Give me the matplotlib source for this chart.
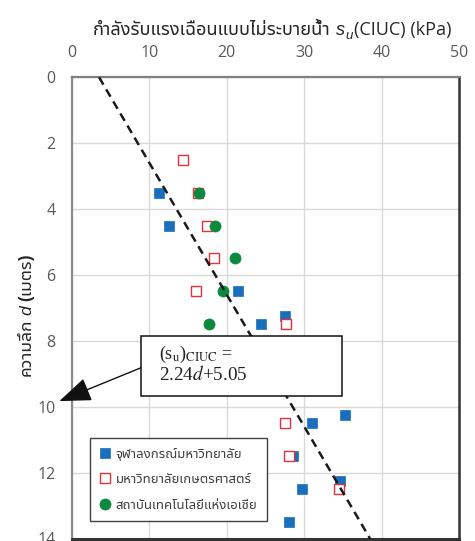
import matplotlib
matplotlib.use("Agg")
import matplotlib.pyplot as plt
import matplotlib.font_manager as fm
from matplotlib.ft2font import FT2Font
from matplotlib.patches import Rectangle
from matplotlib.lines import Line2D
from matplotlib.transforms import IdentityTransform

# ---------------- data ----------------
chula_s = [11.3, 12.5, 21.4, 24.4, 27.5, 31.0, 35.3, 28.6, 29.7, 34.6, 28.0]
chula_d = [3.5, 4.5, 6.5, 7.5, 7.25, 10.5, 10.25, 11.5, 12.5, 12.25, 13.5]

ku_s = [14.3, 16.3, 17.5, 18.3, 16.0, 27.6, 27.5, 28.0, 34.5]
ku_d = [2.5, 3.5, 4.5, 5.5, 6.5, 7.5, 10.5, 11.5, 12.5]

ait_s = [16.4, 18.5, 21.0, 19.5, 17.7]
ait_d = [3.5, 4.5, 5.5, 6.5, 7.5]

fit_s = [3.5, 38.5]
fit_d = [0, 14]

labels = ["จุฬาลงกรณ์มหาวิทยาลัย", "มหาวิทยาลัยเกษตรศาสตร์", "สถาบันเทคโนโลยีแห่งเอเชีย"]
x_ticks = [0, 10, 20, 30, 40, 50]
y_ticks = [0, 2, 4, 6, 8, 10, 12, 14]

title_thai = "กำลังรับแรงเฉือนแบบไม่ระบายน้ำ"
title_tail = "(CIUC) (kPa)"
ylab_thai1 = "ความลึก"
ylab_thai2 = "(เมตร)"

# ---------------- fonts ----------------
def find_thai():
    names = []
    for f in fm.fontManager.ttflist:
        try:
            cm = FT2Font(f.fname).get_charmap()
        except Exception:
            continue
        if 0x0E01 in cm and 0x0E33 in cm and 0x0E49 in cm:
            names.append(f.name)
    if not names:
        return None
    for key in ["Noto Sans Thai", "Leelawadee", "Tahoma", "Loma", "Garuda", "Sans"]:
        for n in names:
            if key in n and "Looped" not in n and "Mono" not in n:
                return n
    return names[0]

thai = find_thai()
fam = ["Open Sans"] + ([thai] if thai else []) + ["DejaVu Sans"]
plt.rcParams["font.family"] = fam

# ---------------- figure ----------------
W, H = 475, 541
fig = plt.figure(figsize=(W / 100, H / 100), dpi=100)
ax = fig.add_axes([72 / W, 1 - 538.5 / H, (459 - 72) / W, (538.5 - 77.3) / H])

ax.set_xlim(0, 50)
ax.set_ylim(14, 0)
ax.set_xticks(x_ticks)
ax.set_yticks(y_ticks)
ax.xaxis.tick_top()
ax.tick_params(axis="both", length=0, labelsize=11.5, labelcolor="#595959", pad=12)
ax.grid(True, color="#d9d9d9", lw=1.0)
ax.set_axisbelow(True)

ax.spines["left"].set_color("#8c8c8c")
ax.spines["left"].set_linewidth(1.6)
ax.spines["top"].set_color("#7f7f7f")
ax.spines["top"].set_linewidth(1.6)
ax.spines["right"].set_color("#333333")
ax.spines["right"].set_linewidth(1.8)
ax.spines["bottom"].set_color("#333333")
ax.spines["bottom"].set_linewidth(2.2)

blue = "#1a6fbd"
red = "#e8303a"
green = "#0b8a3f"

ax.plot(chula_s, chula_d, ls="none", marker="s", ms=7.3, mfc=blue, mec=blue, mew=0.5, zorder=3)
ax.plot(ku_s, ku_d, ls="none", marker="s", ms=7.0, mfc="white", mec=red, mew=1.0, zorder=4)
ax.plot(ait_s, ait_d, ls="none", marker="o", ms=8.0, mfc=green, mec=green, mew=0.5, zorder=5)

ax.plot(fit_s, fit_d, color="#1a1a1a", lw=1.8, dashes=(3.4, 2.2), zorder=6, clip_on=True)

# annotation box
bx0, bx1 = 8.88, 34.84
by0, by1 = 7.84, 9.68
rect = Rectangle((bx0, by0), bx1 - bx0, by1 - by0, facecolor="white", edgecolor="#111111",
                 lw=1.1, zorder=8)
ax.add_patch(rect)
ax.text(11.3, 8.55, r"(s$_\mathrm{u}$)$_\mathrm{CIUC}$ =", family="Liberation Serif",
        math_fontfamily="stix", fontsize=13, color="#222222", va="baseline", ha="left", zorder=9)
ax.text(11.3, 9.2, r"2.24$d$+5.05", family="Liberation Serif", math_fontfamily="stix",
        fontsize=13.8, color="#222222", va="baseline", ha="left", zorder=9)
ax.annotate("", xy=(-1.64, 9.83), xytext=(bx0, 8.82), annotation_clip=False,
            arrowprops=dict(arrowstyle="-|>,head_length=2.0,head_width=0.75", color="#111111",
                            lw=1.0, shrinkA=0, shrinkB=0), zorder=9)

# legend
handles = [
    Line2D([], [], ls="none", marker="s", ms=7.3, mfc=blue, mec=blue, mew=0.5),
    Line2D([], [], ls="none", marker="s", ms=7.0, mfc="white", mec=red, mew=1.0),
    Line2D([], [], ls="none", marker="o", ms=8.0, mfc=green, mec=green, mew=0.5),
]
leg = fig.legend(handles, labels, loc="upper left", bbox_to_anchor=(90 / W, 1 - 438.3 / H),
                 bbox_transform=fig.transFigure, borderaxespad=0, fancybox=False,
                 framealpha=1, edgecolor="#404040", fontsize=9.5, handlelength=0.8,
                 handletextpad=0.45, labelspacing=0.95, borderpad=0.7)
leg.get_frame().set_linewidth(1.0)
leg.set_zorder(20)
for t in leg.get_texts():
    t.set_color("#404040")

# ---------------- chained texts (title and y label) ----------------
renderer = fig.canvas.get_renderer()


def chain(pieces, cx, cy, rotation=0):
    """pieces: (text, kwargs, gap_before_px, offset_px).  Placed in display pixels."""
    objs = []
    for s, kw, gap, off in pieces:
        t = fig.text(0, 0, s, transform=IdentityTransform(), rotation=rotation,
                     rotation_mode="anchor", ha="left", va="baseline", **kw)
        objs.append(t)
    lengths = []
    for t in objs:
        bb = t.get_window_extent(renderer)
        lengths.append(bb.height if rotation == 90 else bb.width)
    total = sum(lengths) + sum(p[2] for p in pieces)
    pos = (cy if rotation == 90 else cx) - total / 2
    for t, L, (s, kw, gap, off) in zip(objs, lengths, pieces):
        pos += gap
        if rotation == 90:
            t.set_position((cx + off, pos))
        else:
            t.set_position((pos, cy - off))
        pos += L
    return objs


dark = "#262626"
chain([
    (title_thai, dict(fontsize=13.1, color=dark), 0, 0),
    ("s", dict(fontsize=13.1, color=dark, family="Liberation Sans", style="italic"), 5, 0),
    ("u", dict(fontsize=9.5, color=dark, family="Liberation Sans", style="italic"), 0.5, 4),
    (title_tail, dict(fontsize=13.1, color=dark), 1, 0),
], cx=272, cy=H - 35)

chain([
    (ylab_thai1, dict(fontsize=12.6, color=dark, fontweight="bold"), 0, 0),
    ("d", dict(fontsize=12.6, color=dark, family="Liberation Sans", style="italic"), 4, 0),
    (ylab_thai2, dict(fontsize=12.6, color=dark, fontweight="bold"), 4, 0),
], cx=31, cy=H - 315, rotation=90)

fig.savefig("out.png", dpi=100)
